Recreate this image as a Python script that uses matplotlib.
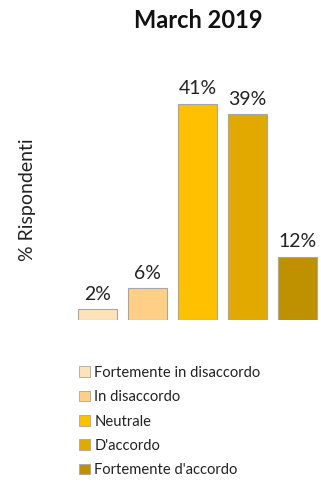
import matplotlib.pyplot as plt
from matplotlib.patches import Patch

plt.rcParams['font.family'] = ['Lato', 'DejaVu Sans']

# Dati
categorie = ['Fortemente in disaccordo', 'In disaccordo', 'Neutrale',
             "D'accordo", "Fortemente d'accordo"]
percentuali = [2, 6, 41, 39, 12]
colori = ['#FFE2B8', '#FFCF87', '#FFC000', '#E2A900', '#BF9000']

W, H = 321, 484
fig = plt.figure(figsize=(W / 100, H / 100), dpi=100)

# Assi in pixel: base delle barre a y=320, 5.27 px per punto percentuale
left, right = 72.5, 322.5
base, top = 320, 320 - 45 * 5.27
ax = fig.add_axes([left / W, (H - base) / H, (right - left) / W, (base - top) / H])

x = range(len(percentuali))
barre = ax.bar(x, percentuali, width=0.78, color=colori,
               edgecolor='#A6A6A6', linewidth=0.8)
for b, v in zip(barre, percentuali):
    ax.text(b.get_x() + b.get_width() / 2, v + 1.3, f'{v}%',
            ha='center', va='bottom', fontsize=14, color='#222222')

ax.set_xlim(-0.5, 4.5)
ax.set_ylim(0, 45)
ax.axis('off')

fig.text(198 / W, 1 - 20 / H, 'March 2019', ha='center', va='center',
         fontsize=17, fontweight='bold', color='#111111')
fig.text(28 / W, 1 - 200 / H, '% Rispondenti', rotation=90,
         ha='center', va='center', fontsize=14, color='#222222')

# Legenda
maniglie = [Patch(facecolor=c, edgecolor='#A6A6A6', linewidth=0.6) for c in colori]
fig.legend(maniglie, categorie, loc='upper left',
           bbox_to_anchor=(73 / W, 1 - 360 / H), frameon=False,
           fontsize=10.6, handlelength=0.75, handleheight=0.75,
           handletextpad=0.3, labelspacing=0.7, borderaxespad=0,
           labelcolor='#222222')

fig.savefig('out.png', dpi=100)
